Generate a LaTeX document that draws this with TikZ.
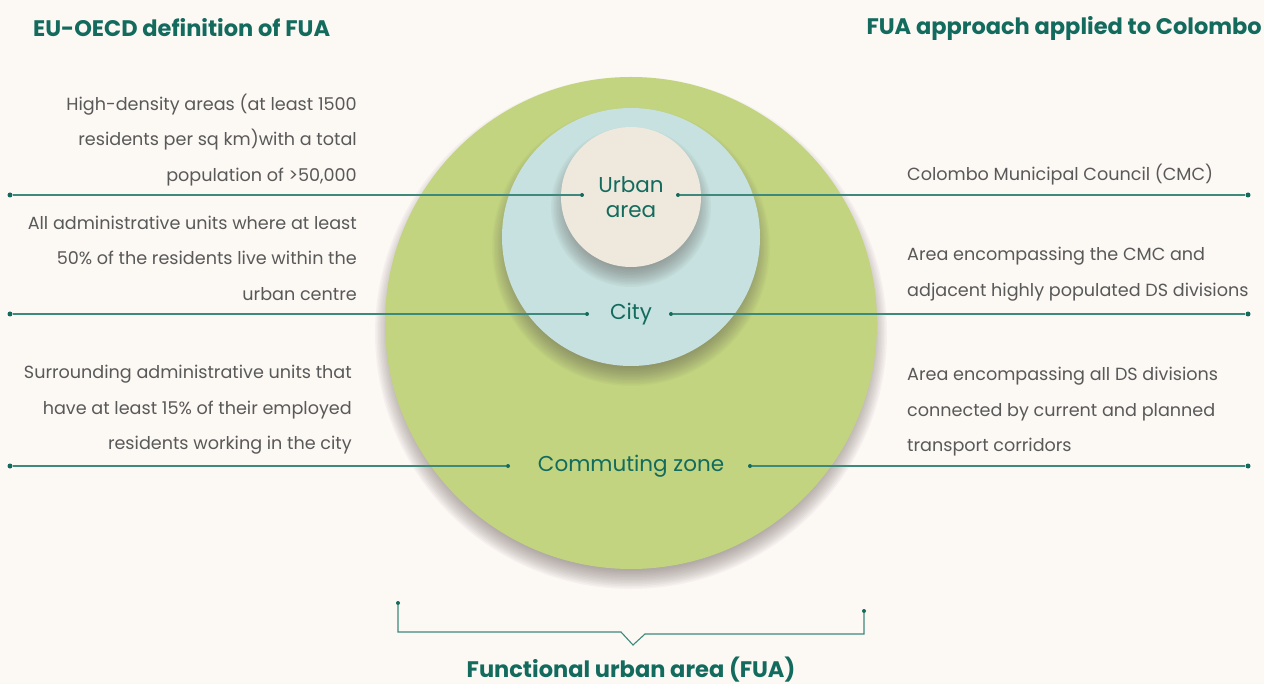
\documentclass[tikz,border=0pt]{standalone}
\usepackage{fontspec}
\setmainfont{Poppins}

\definecolor{bgcream}{HTML}{FCF8F4}
\definecolor{fuagreen}{HTML}{C2D47F}
\definecolor{citymint}{HTML}{C6E1DF}
\definecolor{coreivory}{HTML}{EFE9DD}
\definecolor{tealdark}{HTML}{136B5E}
\definecolor{tealline}{HTML}{3D897C}
\definecolor{bodygrey}{HTML}{595959}
\definecolor{shadowgrey}{HTML}{5E5552}

\tikzset{
 zone/.style={circle, inner sep=0pt, minimum size=#1},
 zonelabel/.style={text=tealdark, align=center, font=\fontsize{21.5}{25}\selectfont},
 leader/.style={tealline, line width=1.1pt},
 tip/.style={circle, fill=tealdark, inner sep=0pt, minimum size=#1},
 tip/.default=4pt,
 defn/.style={text=bodygrey, font=\fontsize{17.6}{35.5}\selectfont, inner sep=0pt},
 heading/.style={text=tealdark, font=\fontsize{22.5}{26}\selectfont\bfseries, inner sep=0pt},
}

% soft shadow: stacked faint discs, shifted down
\newcommand{\softshadow}[3]{%
 \foreach \k in {0,...,14} {
  \fill[shadowgrey, opacity=0.045] (#1,#2+10) circle ({#3+10-1.5*\k});
 }%
}

\begin{document}
\begin{tikzpicture}[x=1pt, y=-1pt]
\fill[bgcream] (0,0) rectangle (1264,684);
\useasboundingbox (0,0) rectangle (1264,684);

% nested zones
\softshadow{631}{323}{246}
\node[zone=492pt, fill=fuagreen] (fua) at (631,323) {};
\softshadow{631}{237}{129}
\node[zone=258pt, fill=citymint] (city) at (631,237) {};
\softshadow{631}{197}{70}
\node[zone=140pt, fill=coreivory] (core) at (631,197) {};

\node[zonelabel] (urbanlbl) at (631,197) {Urban\\area};
\node[zonelabel] (citylbl) at (631,314) {City};
\node[zonelabel] (commlbl) at (631,466) {Commuting zone};

% leader lines out to both sides
\foreach \y/\a/\b in {195/582/678, 314/587/671, 466/508/750} {
 \node[tip] (l\y) at (\a,\y) {};
 \node[tip] (r\y) at (\b,\y) {};
 \node[tip=5pt] (el\y) at (10,\y) {};
 \node[tip=5pt] (er\y) at (1248,\y) {};
 \draw[leader] (el\y) -- (l\y);
 \draw[leader] (r\y) -- (er\y);
}

% headings
\node[heading, anchor=west] (eutitle) at (33,28) {EU-OECD definition of FUA};
\node[heading, anchor=east] (cbtitle) at (1262,28) {FUA approach applied to Colombo};

% EU-OECD side
\node[defn, anchor=east, align=right] (eucore) at (357,140)
 {High-density areas (at least 1500\\residents per sq km)with a total\\population of >50,000};
\node[defn, anchor=east, align=right] (eucity) at (357,258)
 {All administrative units where at least\\50\% of the residents live within the\\urban centre};
\node[defn, anchor=east, align=right] (eucomm) at (352,410)
 {Surrounding administrative units that\\have at least 15\% of their employed\\residents working in the city};

% Colombo side
\node[defn, anchor=west, align=left] (cbcore) at (907,175) {Colombo Municipal Council (CMC)};
\node[defn, anchor=west, align=left] (cbcity) at (907,274)
 {Area encompassing the CMC and\\adjacent highly populated DS divisions};
\node[defn, anchor=west, align=left] (cbcomm) at (907,412)
 {Area encompassing all DS divisions\\connected by current and planned\\transport corridors};

% bracket under the zones
\node[tip] (bl) at (398,603) {};
\node[tip] (br) at (864,611) {};
\coordinate (notch) at (633,645);
\draw[leader] (bl) |- (621,632) -- (notch) -- (645,634) -| (br);
\node[heading, anchor=center] (fualbl) at (631,670) {Functional urban area (FUA)};
\end{tikzpicture}
\end{document}
